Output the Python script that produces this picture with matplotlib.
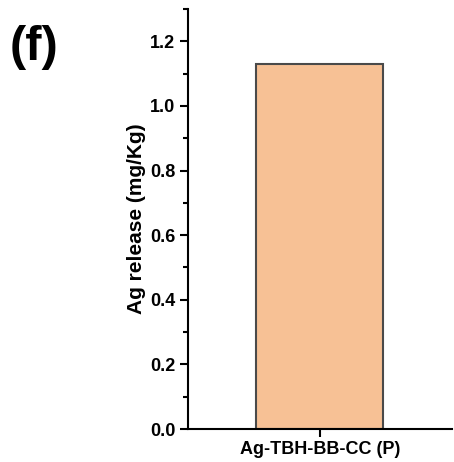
import matplotlib.pyplot as plt
from matplotlib.ticker import MultipleLocator

plt.rcParams['font.family'] = ['Liberation Sans', 'DejaVu Sans']
plt.rcParams['font.weight'] = 'bold'

samples = ['Ag-TBH-BB-CC (P)']
release = [1.13]

fig = plt.figure(figsize=(4.54, 4.62), dpi=100)
ax = fig.add_axes([187.7 / 454, 1 - 429 / 462, (452 - 187.7) / 454, (429 - 9) / 462])

ax.bar(samples, release, width=0.5, color='#F7C195', edgecolor='#4a4a4a', lw=1.5)
ax.set_xlim(-0.52, 0.52)
ax.set_ylim(0, 1.3)

ax.yaxis.set_major_locator(MultipleLocator(0.2))
ax.yaxis.set_minor_locator(MultipleLocator(0.1))
ax.set_yticks([0, 0.2, 0.4, 0.6, 0.8, 1.0, 1.2])
ax.set_yticklabels(['0.0', '0.2', '0.4', '0.6', '0.8', '1.0', '1.2'])
ax.tick_params(axis='both', which='major', direction='out', length=6, width=1.5, labelsize=13, color='black', pad=3)
ax.tick_params(axis='y', which='minor', direction='out', length=3.5, width=1.5)

for s in ['top', 'right']:
    ax.spines[s].set_visible(False)
for s in ['left', 'bottom']:
    ax.spines[s].set_linewidth(1.5)

ax.set_ylabel('Ag release (mg/Kg)', fontsize=15, fontweight='bold', labelpad=3)
for lab in ax.get_xticklabels() + ax.get_yticklabels():
    lab.set_fontweight('bold')

fig.text(10 / 454, 1 - 47 / 462, '(f)', fontsize=35, fontweight='bold', va='center')

fig.savefig('out.png', dpi=100)
